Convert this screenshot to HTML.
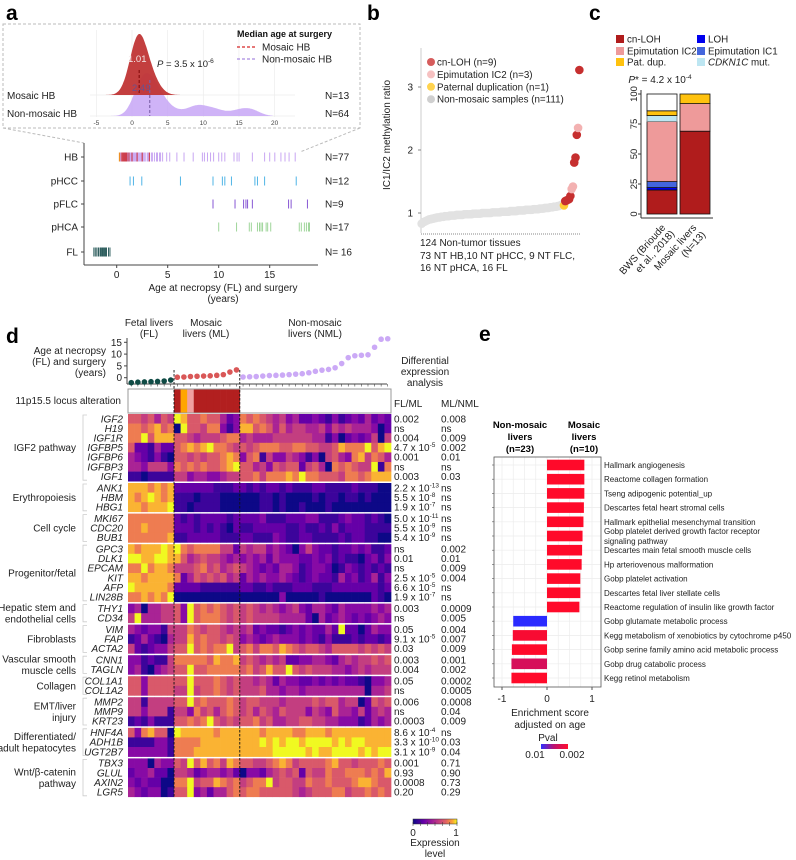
<!DOCTYPE html>
<html><head><meta charset="utf-8">
<style>
html,body{margin:0;padding:0;background:#fff;}
svg{display:block;font-family:"Liberation Sans",Arial,sans-serif;}
.t{font-size:10px;fill:#222;}
</style></head>
<body>
<svg id="fig" width="796" height="860" viewBox="0 0 796 860" xmlns="http://www.w3.org/2000/svg">
<text x="6" y="20" font-size="21" font-weight="bold">a</text>
<text x="367" y="20" font-size="21" font-weight="bold">b</text>
<text x="589" y="20" font-size="21" font-weight="bold">c</text>
<text x="6" y="343" font-size="21" font-weight="bold">d</text>
<text x="479" y="341" font-size="21" font-weight="bold">e</text>

<g id="pa">
<rect x="3" y="24" width="357" height="104" fill="none" stroke="#bbb" stroke-dasharray="3,2"/>
<line x1="3" y1="128" x2="84" y2="143" stroke="#bbb" stroke-dasharray="3,2"/>
<line x1="360" y1="128" x2="300" y2="152" stroke="#bbb" stroke-dasharray="3,2"/>
<g id="ridgeGrid"></g>
<g id="ridge"></g>
<text class="t" x="7" y="99">Mosaic HB</text>
<text class="t" x="7" y="117">Non-mosaic HB</text>
<text class="t" x="325" y="99">N=13</text>
<text class="t" x="325" y="117">N=64</text>
<text x="128" y="62" font-size="9.5" fill="#f4e8e8">1.01</text>
<text x="132" y="91" font-size="9.5" fill="#6a4f8c">2.49</text>
<text x="157" y="67" font-size="9.5" fill="#222"><tspan font-style="italic">P</tspan> = 3.5 x 10<tspan font-size="6.5" dy="-4">-6</tspan></text>
<text x="237" y="37" font-size="9" font-weight="bold" fill="#111">Median age at surgery</text>
<line x1="237" y1="47" x2="257" y2="47" stroke="#d62728" stroke-width="1.2" stroke-dasharray="3,2"/>
<text class="t" x="262" y="50.5">Mosaic HB</text>
<line x1="237" y1="59" x2="257" y2="59" stroke="#a98ae0" stroke-width="1.2" stroke-dasharray="3,2"/>
<text class="t" x="262" y="62.5">Non-mosaic HB</text>
<g id="strip"></g>
<line x1="84" y1="143" x2="84" y2="265" stroke="#444"/>
<line x1="84" y1="265" x2="318" y2="265" stroke="#444"/>
<text class="t" x="223" y="291" text-anchor="middle">Age at necropsy (FL) and surgery</text>
<text class="t" x="223" y="302" text-anchor="middle">(years)</text>
</g>

<g id="pb">
<text class="t" transform="translate(390,135) rotate(-90)" text-anchor="middle">IC1/IC2 methylation ratio</text>
<line x1="421" y1="48" x2="421" y2="233" stroke="#ccc"/>
<line x1="421" y1="234" x2="580" y2="234" stroke="#888" stroke-dasharray="1,1"/>
<g id="bticks"></g>
<g id="bpts"></g>
<g id="blegend"></g>
<text class="t" x="420" y="246">124 Non-tumor tissues</text>
<text class="t" x="420" y="259">73 NT HB,10 NT pHCC, 9 NT FLC,</text>
<text class="t" x="420" y="271">16 NT pHCA, 16 FL</text>
</g>

<g id="pc">
<g id="clegend"></g>
<text class="t" x="660" y="83" text-anchor="middle"><tspan font-style="italic">P</tspan>* = 4.2 x 10<tspan font-size="6.5" dy="-4">-4</tspan></text>
<line x1="641" y1="90" x2="641" y2="218" stroke="#333"/>
<line x1="641" y1="218" x2="713" y2="218" stroke="#333"/>
<g id="cbars"></g>
<text class="t" transform="translate(666,228) rotate(-48)" text-anchor="end">BWS (Brioude</text>
<text class="t" transform="translate(675,234) rotate(-48)" text-anchor="end">et al., 2018)</text>
<text class="t" transform="translate(697,228) rotate(-48)" text-anchor="end">Mosaic livers</text>
<text class="t" transform="translate(706,235) rotate(-48)" text-anchor="end">(N=13)</text>
</g>

<g id="pd">
<text class="t" x="149" y="326" text-anchor="middle">Fetal livers</text>
<text class="t" x="149" y="337" text-anchor="middle">(FL)</text>
<text class="t" x="206" y="326" text-anchor="middle">Mosaic</text>
<text class="t" x="206" y="337" text-anchor="middle">livers (ML)</text>
<text class="t" x="315" y="326" text-anchor="middle">Non-mosaic</text>
<text class="t" x="315" y="337" text-anchor="middle">livers (NML)</text>
<text class="t" x="106" y="354" text-anchor="end">Age at necropsy</text>
<text class="t" x="106" y="365" text-anchor="end">(FL) and surgery</text>
<text class="t" x="106" y="376" text-anchor="end">(years)</text>
<text class="t" x="425" y="364" text-anchor="middle">Differential</text>
<text class="t" x="425" y="375" text-anchor="middle">expression</text>
<text class="t" x="425" y="386" text-anchor="middle">analysis</text>
<text class="t" x="394" y="407">FL/ML</text>
<text class="t" x="441" y="407">ML/NML</text>
<text class="t" x="121" y="404" text-anchor="end">11p15.5 locus alteration</text>
<g id="dage"></g>
<g id="dlocus"></g>
<g id="dheat"></g>
<g id="dlabels"></g>
<g id="dcbar"></g>
</g>

<g id="pe">
<text x="520" y="428" font-size="9.5" font-weight="bold" text-anchor="middle">Non-mosaic</text>
<text x="520" y="440" font-size="9.5" font-weight="bold" text-anchor="middle">livers</text>
<text x="520" y="452" font-size="9.5" font-weight="bold" text-anchor="middle">(n=23)</text>
<text x="584" y="428" font-size="9.5" font-weight="bold" text-anchor="middle">Mosaic</text>
<text x="584" y="440" font-size="9.5" font-weight="bold" text-anchor="middle">livers</text>
<text x="584" y="452" font-size="9.5" font-weight="bold" text-anchor="middle">(n=10)</text>
<g id="egrid"></g>
<g id="ebars"></g>
<rect x="494" y="457" width="107" height="230" fill="none" stroke="#555" stroke-width="0.8"/>
<text class="t" x="550" y="716" text-anchor="middle">Enrichment score</text>
<text class="t" x="550" y="728" text-anchor="middle">adjusted on age</text>
<text class="t" x="548" y="741" text-anchor="middle">Pval</text>
<defs><linearGradient id="pg" x1="0" x2="1"><stop offset="0" stop-color="#3030ff"/><stop offset="0.5" stop-color="#c0106a"/><stop offset="1" stop-color="#ff1030"/></linearGradient>
<linearGradient id="plasma" x1="0" x2="1"><stop offset="0" stop-color="#0d0887"/><stop offset="0.25" stop-color="#6a00a8"/><stop offset="0.5" stop-color="#b12a90"/><stop offset="0.75" stop-color="#e16462"/><stop offset="0.9" stop-color="#fca636"/><stop offset="1" stop-color="#f0f921"/></linearGradient></defs>
<rect x="541" y="744" width="27" height="5" fill="url(#pg)"/>
<text class="t" x="535" y="758" text-anchor="middle">0.01</text>
<text class="t" x="572" y="758" text-anchor="middle">0.002</text>
</g>
</svg>

<script>
const ageMosaicHB = [0.3,0.5,0.6,0.7,0.8,0.9,1.0,1.01,1.2,1.5,2.0,2.5,3.2];
const ageNonMosaicHB = [0.4,0.6,0.7,0.8,0.9,1.0,1.0,1.1,1.2,1.3,1.4,1.5,1.5,1.6,1.7,1.8,1.9,2.0,2.0,2.1,2.2,2.3,2.4,2.49,2.5,2.6,2.7,2.8,3.0,3.0,3.1,3.2,3.4,3.5,3.7,3.9,4.0,4.2,4.3,4.5,4.9,5.2,5.9,6.6,7.5,8.4,8.6,8.9,9.2,9.5,10.0,10.3,10.6,11.5,11.8,12.0,13.3,14.5,15.0,15.5,16.1,16.5,16.9,17.5];
const ageHBOther = [0.26];
const agePHCC = [1.31,1.64,2.46,6.25,9.44,10.36,10.6,11.25,13.55,13.8,14.5,17.6];
const agePFLC = [9.44,11.6,12.44,12.67,12.83,13.3,16.85,17.1,18.7];
const agePHCA = [10.0,11.75,13.0,13.2,13.8,14.0,14.15,14.3,14.65,14.8,15.1,17.9,18.1,18.4,18.6,18.8,18.9];
const ageFL = [-2.24,-2.1,-1.95,-1.8,-1.75,-1.6,-1.55,-1.5,-1.4,-1.35,-1.3,-1.2,-1.1,-1.0,-0.8,-0.66];
const medians = [1.01, 2.49];
const stripRows = ["HB","pHCC","pFLC","pHCA","FL"];
const stripN = ["N=77","N=12","N=9","N=17","N= 16"];
const stripTicks = [0,5,10,15];
const ridgeTicks = [-5,0,5,10,15,20];
const grayRatios = [0.83,0.85,0.86,0.87,0.88,0.89,0.90,0.90,0.91,0.91,0.92,0.92,0.93,0.93,0.93,0.94,0.94,0.94,0.95,0.95,
0.95,0.95,0.96,0.96,0.96,0.96,0.96,0.97,0.97,0.97,0.97,0.97,0.97,0.98,0.98,0.98,0.98,0.98,0.98,0.98,
0.99,0.99,0.99,0.99,0.99,0.99,0.99,1.00,1.00,1.00,1.00,1.00,1.00,1.00,1.00,1.01,1.01,1.01,1.01,1.01,
1.01,1.01,1.02,1.02,1.02,1.02,1.02,1.02,1.02,1.03,1.03,1.03,1.03,1.03,1.03,1.04,1.04,1.04,1.04,1.04,
1.04,1.05,1.05,1.05,1.05,1.05,1.05,1.06,1.06,1.06,1.06,1.06,1.07,1.07,1.07,1.07,1.08,1.08,1.08,1.08,
1.09,1.09,1.09,1.10,1.10,1.10,1.11,1.11,1.12,1.13,1.14];
const mosaicRatios = [1.12,1.19,1.20,1.21,1.22,1.27,1.38,1.42,1.80,1.88,2.24,2.35,3.27];
const mosaicTypes = ["pat","cn","cn","cn","cn","cn","ic2","ic2","cn","cn","cn","ic2","cn"];
const bTicks = [1,2,3];
const bLegend = ["cn-LOH (n=9)","Epimutation IC2 (n=3)","Paternal duplication (n=1)","Non-mosaic samples (n=111)"];
const cCategories = ["BWS","Mosaic livers"];
const cSegNames = ["cn-LOH","LOH","Epimutation IC1","Epimutation IC2","CDKN1C mut.","Pat. dup.","Other"];
const cBWS = [20,2,5,50,5,4,14];
const cMosaic = [69,0,0,23,0,8,0];
const cTicks = [0,25,50,75,100];
const dAgeFL = [-2.1,-1.9,-1.8,-1.7,-1.6,-1.4,-1.0];
const dAgeML = [0.2,0.3,0.5,0.6,0.7,0.8,1.0,1.3,2.4,3.3];
const dAgeNML = [0.3,0.4,0.5,0.7,0.9,1.0,1.1,1.3,1.5,1.7,2.1,2.7,3.2,3.5,4.2,6.0,8.5,9.3,9.5,9.7,12.9,16.3,16.5];
const dAgeTicks = [0,5,10,15];
const locusML = ["cn","pat","ic2","cn","cn","cn","cn","cn","cn","cn"];
const genes = ["IGF2","H19","IGF1R","IGFBP5","IGFBP6","IGFBP3","IGF1","ANK1","HBM","HBG1","MKI67","CDC20","BUB1","GPC3","DLK1","EPCAM","KIT","AFP","LIN28B","THY1","CD34","VIM","FAP","ACTA2","CNN1","TAGLN","COL1A1","COL1A2","MMP2","MMP9","KRT23","HNF4A","ADH1B","UGT2B7","TBX3","GLUL","AXIN2","LGR5"];
const groupNames = ["IGF2 pathway","Erythropoiesis","Cell cycle","Progenitor/fetal","Hepatic stem and|endothelial cells","Fibroblasts","Vascular smooth|muscle cells","Collagen","EMT/liver|injury","Differentiated/|adult hepatocytes","Wnt/β-catenin|pathway"];
const groupSizes = [7,3,3,6,2,3,2,2,3,3,4];
const statFLML = ["0.002","ns","0.004","4.7 x 10^-5","0.001","ns","0.003","2.2 x 10^-13","5.5 x 10^-8","1.9 x 10^-7","5.0 x 10^-11","5.5 x 10^-9","5.4 x 10^-9","ns","0.01","ns","2.5 x 10^-5","6.6 x 10^-5","1.9 x 10^-7","0.003","ns","0.05","9.1 x 10^-5","0.03","0.003","0.004","0.05","ns","0.006","ns","0.0003","8.6 x 10^-4","3.3 x 10^-10","3.1 x 10^-9","0.001","0.93","0.0008","0.20"];
const statMLNML = ["0.008","ns","0.009","0.002","0.01","ns","0.03","ns","ns","ns","ns","ns","ns","0.002","0.01","0.009","0.004","ns","ns","0.0009","0.005","0.004","0.007","0.009","0.001","0.002","0.0002","0.0005","0.0008","0.04","0.009","ns","0.03","0.04","0.71","0.90","0.73","0.29"];
const expr = [
"6656465 9866766423 76765453422321312324232",
"7767867 0966577313 88676464554453545444302",
"7796888 6654555677 45444555555441302323505",
"6221422 6787897765 65677766776655687779689",
"4321310 6656566787 36715335431305643785764",
"4435553 7676766789 66453656625640767655917",
"1101111 5534433455 66757778797766657767888",
"8887878 2222221112 21212212111221111211100",
"8789878 1110111000 00011010000101101101000",
"8878889 1101111000 00011010010001000000000",
"7777777 2121222212 22231112223311123221210",
"7787777 2221212102 11222221121121312221111",
"7777778 1122222111 22111321122111121221100",
"8788898 9767777552 54553432035322122323112",
"9988998 8645655434 34342433322323121102313",
"7797887 5556756456 54323244312332013212121",
"8878888 7246565645 24343343212322142312413",
"9888887 2222111111 22112111222111222222212",
"7787879 0000000000 00000030000010000000210",
"3404455 6396767656 56545434532443243333434",
"5944455 6396777656 56555544442042343232343",
"4323315 5576566545 45232212323224292202433",
"1242104 5586766565 34323433323213111212212",
"5212335 6696767795 67577687656654666656565",
"3312115 7777768778 56545452233443245455656",
"3410345 6696677777 67568669656555443454555",
"6636666 6696667656 55454243322323232210334",
"6636666 5595667656 55564434434444444440445",
"5515555 6696766676 56655545555656645502656",
"5535551 5537564676 56465465553543644352454",
"1213111 6676796565 66756445566554433312434",
"6378660 9888887888 88878888778887888888888",
"1111331 7777888888 88898989989999898998888",
"3333331 7778888888 88888999998988999989899",
"3330433 6596867587 66556787566667866566676",
"2334220 5542344342 03324565626557667776768",
"3232200 7795668767 56779566557667666788766",
"4323301 6693424467 67766666545666775667676"];
const eTerms = ["Hallmark angiogenesis","Reactome collagen formation","Tseng adipogenic potential_up","Descartes fetal heart stromal cells","Hallmark epithelial mesenchymal transition","Gobp platelet derived growth factor receptor|signaling pathway","Descartes main fetal smooth muscle cells","Hp arteriovenous malformation","Gobp platelet activation","Descartes fetal liver stellate cells","Reactome regulation of insulin like growth factor","Gobp glutamate metabolic process","Kegg metabolism of xenobiotics by cytochrome p450","Gobp serine family amino acid metabolic process","Gobp drug catabolic process","Kegg retinol metabolism"];
const eScores = [0.83,0.83,0.83,0.82,0.81,0.79,0.78,0.77,0.74,0.74,0.72,-0.75,-0.76,-0.78,-0.79,-0.79];
const ePvals = [0.002,0.002,0.002,0.002,0.002,0.002,0.002,0.002,0.002,0.002,0.002,0.01,0.0025,0.002,0.005,0.002];
const eTicks = [-1,0,1];

const NS="http://www.w3.org/2000/svg";
function mk(parent, tag, attrs){const e=document.createElementNS(NS,tag);for(const k in attrs)e.setAttribute(k,attrs[k]);parent.appendChild(e);return e;}
function G(id){return document.getElementById(id);}
function hex(h){return [parseInt(h.slice(1,3),16),parseInt(h.slice(3,5),16),parseInt(h.slice(5,7),16)];}
const plasmaStops=[[0,'#0d0887'],[0.13,'#41049d'],[0.25,'#6a00a8'],[0.38,'#8f0da4'],[0.5,'#b12a90'],[0.63,'#cc4778'],[0.75,'#e16462'],[0.85,'#f2844b'],[0.93,'#fca636'],[1,'#f0f921']];
function plasma(v){v=Math.max(0,Math.min(1,v));for(let i=1;i<plasmaStops.length;i++){if(v<=plasmaStops[i][0]){const a=plasmaStops[i-1],b=plasmaStops[i];const t=(v-a[0])/(b[0]-a[0]);const ca=hex(a[1]),cb=hex(b[1]);return 'rgb('+ca.map((c,j)=>Math.round(c+(cb[j]-c)*t)).join(',')+')';}}return '#f0f921';}
function setStat(el, s){
  const m=s.split('^');
  const a=mk(el,'tspan',{});a.textContent=m[0];
  if(m.length>1){const b=mk(el,'tspan',{'font-size':6.5,dy:-4});b.textContent=m[1];}
}

const rx = a => 132 + a*7.13;
const sx = a => 116.7 + a*10.2;
(function(){
  const gg=G('ridgeGrid');
  ridgeTicks.forEach(t=>{
    const l=mk(gg,'line',{x1:rx(t),y1:30,x2:rx(t),y2:117,stroke:'#ececec','stroke-width':0.7});
    
    
    const tx=mk(gg,'text',{x:rx(t),y:125,'font-size':6.5,'text-anchor':'middle',fill:'#444'});
    tx.textContent=t;
    
    
  });
  [95,116].forEach(y=>{const l=mk(gg,'line',{x1:90,y1:y,x2:295,y2:y,stroke:'#ececec','stroke-width':0.7});
    
    });
  function kde(data,bw,x){let s=0;data.forEach(d=>{const z=(x-d)/bw;s+=Math.exp(-0.5*z*z);});return s;}
  function ridge(data,bw,base,height,fill,op,name,x0,x1){
    const xs=[];for(let a=x0;a<=x1;a+=0.1)xs.push(a);
    const ys=xs.map(a=>kde(data,bw,a));const mx=Math.max(...ys);
    let d='M'+rx(x0)+','+base;
    xs.forEach((a,i)=>{d+=' L'+rx(a).toFixed(1)+','+(base-ys[i]/mx*height).toFixed(1);});
    d+=' L'+rx(x1)+','+base+' Z';
    const p=mk(G('ridge'),'path',{d:d,fill:fill,'fill-opacity':op});
    
    
  }
  ridge(ageNonMosaicHB,1.1,116,43,'#c7a6f6',0.85,'density-nonmosaic',-3.8,19.8);
  ridge(ageMosaicHB,1.15,95,61,'#c03535',0.95,'density-mosaic',-3.8,6.7);
  const m1=mk(G('ridge'),'line',{x1:rx(medians[0]),y1:70,x2:rx(medians[0]),y2:95,stroke:'#8b1010','stroke-dasharray':'3,2','stroke-width':1.2});
  
  
  const m2=mk(G('ridge'),'line',{x1:rx(medians[1]),y1:80,x2:rx(medians[1]),y2:116,stroke:'#7a5fa8','stroke-dasharray':'3,2','stroke-width':1.1});
  
  

  const st=G('strip');
  const rowY=[157,181,204,227,252];
  stripRows.forEach((r,i)=>{
    const t=mk(st,'text',{x:78,y:rowY[i]+3.5,'text-anchor':'end','font-size':10,fill:'#222'});t.textContent=r;
    
    
    const n=mk(st,'text',{x:325,y:rowY[i]+3.5,'font-size':10,fill:'#222'});n.textContent=stripN[i];
    
    
    const tk=mk(st,'line',{x1:81,y1:rowY[i],x2:84,y2:rowY[i],stroke:'#444'});
    
    
  });
  function ticks(arr,row,color,name,w){arr.forEach(a=>{const l=mk(st,'line',{x1:sx(a),y1:rowY[row]-4.5,x2:sx(a),y2:rowY[row]+4.5,stroke:color,'stroke-width':w||1});
    
    });}
  ticks(ageNonMosaicHB,0,'#c8a6f2','tick-hb-nonmosaic');
  ticks(ageMosaicHB,0,'#cc2f38','tick-hb-mosaic');
  ticks(ageHBOther,0,'#f2a023','tick-hb-other');
  ticks(agePHCC,1,'#4fb4e6','tick-phcc');
  ticks(agePFLC,2,'#8757d4','tick-pflc');
  ticks(agePHCA,3,'#9fd59a','tick-phca');
  ticks(ageFL,4,'#2f5f5f','tick-fl');
  stripTicks.forEach(t=>{
    const l=mk(st,'line',{x1:sx(t),y1:265,x2:sx(t),y2:268,stroke:'#444'});
    
    
    const tx=mk(st,'text',{x:sx(t),y:278,'text-anchor':'middle','font-size':10,fill:'#222'});tx.textContent=t;
    
    
  });
})();

(function(){
  const by=v=>213-(v-1)*63;
  const total=grayRatios.length+mosaicRatios.length;
  const bx=r=>421+(r+0.5)*(159/total);
  bTicks.forEach(t=>{
    const tx=mk(G('bticks'),'text',{x:413,y:by(t)+3.5,'text-anchor':'end','font-size':10,fill:'#222'});tx.textContent=t;
    
    
    const l=mk(G('bticks'),'line',{x1:418,y1:by(t),x2:421,y2:by(t),stroke:'#888'});
    
    
  });
  grayRatios.forEach((v,i)=>{const c=mk(G('bpts'),'circle',{cx:bx(i),cy:by(v),r:4.3,fill:'#e2e2e2'});
    
    });
  const col={cn:'#c62f2f',ic2:'#f3b1b1',pat:'#ffcc33'};
  mosaicRatios.forEach((v,i)=>{const c=mk(G('bpts'),'circle',{cx:bx(grayRatios.length+i),cy:by(v),r:4.3,fill:col[mosaicTypes[i]]});
    
    });
  const lc=['#d65c5c','#f6c1c1','#ffd34f','#cfcfcf'];
  bLegend.forEach((s,i)=>{
    const y=62+i*12.4;
    const c=mk(G('blegend'),'circle',{cx:431,cy:y,r:4,fill:lc[i]});
    
    
    const t=mk(G('blegend'),'text',{x:437,y:y+3.5,'font-size':9.8,fill:'#222'});t.textContent=s;
    
    
  });
})();

(function(){
  const cy=v=>214-v*1.2;
  const segCol=['#b01c1c','#0000ee','#4466dd','#ee9a9a','#bde6f2','#ffc20e','#ffffff'];
  const bx=[647,680];
  [cBWS,cMosaic].forEach((vals,b)=>{
    let acc=0;
    vals.forEach((v,k)=>{
      if(v<=0)return;
      const r=mk(G('cbars'),'rect',{x:bx[b],y:cy(acc+v),width:30,height:v*1.2,fill:segCol[k],stroke:(k===4?'#777':'#111'),'stroke-width':0.8});
      
      
      acc+=v;
    });
  });
  cTicks.forEach(t=>{
    const tx=mk(G('cbars'),'text',{transform:'translate(637,'+cy(t)+') rotate(-90)','text-anchor':'middle','font-size':9.5,fill:'#222'});tx.textContent=t;
    
    
    const l=mk(G('cbars'),'line',{x1:638,y1:cy(t),x2:641,y2:cy(t),stroke:'#333'});
    
    
  });
  const items=[["cn-LOH",'#b01c1c',620,39],["Epimutation IC2",'#ee9a9a',620,51],["Pat. dup.",'#ffc20e',620,62],["LOH",'#0000ee',701,39],["Epimutation IC1",'#4466dd',701,51],["CDKN1C mut.",'#bde6f2',701,62]];
  items.forEach((it,i)=>{
    const r=mk(G('clegend'),'rect',{x:it[2]-4,y:it[3]-4,width:8,height:8,fill:it[1]});
    
    
    const t=mk(G('clegend'),'text',{x:it[2]+7,y:it[3]+3.5,'font-size':9.8,fill:'#222'});
    if(i===5){const ts=mk(t,'tspan',{'font-style':'italic'});ts.textContent='CDKN1C';const t2=mk(t,'tspan',{});t2.textContent=' mut.';}
    else t.textContent=it[0];
    
    
  });
})();

(function(){
  const X0=128, X1=391, N=40, cw=(X1-X0)/N;
  const ay=a=>377.7-a*2.36;
  const cxc=i=>X0+(i+0.5)*cw;
  const ag=G('dage');
  const ax=mk(ag,'line',{x1:X0-1,y1:338,x2:X0-1,y2:384,stroke:'#444'});
  
  
  const bxl=mk(ag,'line',{x1:X0-1,y1:384,x2:X1-4,y2:384,stroke:'#444'});
  
  
  for(let i=0;i<N;i++){const l=mk(ag,'line',{x1:cxc(i),y1:384,x2:cxc(i),y2:386.5,stroke:'#444','stroke-width':0.6});
    
    }
  dAgeTicks.forEach(t=>{
    const l=mk(ag,'line',{x1:X0-4,y1:ay(t),x2:X0-1,y2:ay(t),stroke:'#444'});
    
    
    const tx=mk(ag,'text',{x:X0-6,y:ay(t)+3.5,'text-anchor':'end','font-size':10,fill:'#222'});tx.textContent=t;
    
    
  });
  const allAges=[dAgeFL,dAgeML,dAgeNML];const cols=['#0f4b45','#d95757','#cba9f6'];const nm=['fl','ml','nml'];
  let idx=0;
  allAges.forEach((arr,g)=>{arr.forEach(a=>{const c=mk(ag,'circle',{cx:cxc(idx),cy:ay(a),r:2.8,fill:cols[g]});
    
    idx++;});});
  const lg=G('dlocus');
  const lb=mk(lg,'rect',{x:X0,y:389,width:X1-X0,height:24,fill:'#fff',stroke:'#999','stroke-width':1});
  
  
  const lcol={cn:'#b21f1f',pat:'#ffa500',ic2:'#f0a0a0'};
  locusML.forEach((t,i)=>{const r=mk(lg,'rect',{x:cxc(dAgeFL.length+i)-cw/2,y:389.5,width:cw+0.3,height:23,fill:lcol[t]});
    
    });
  const hg=G('dheat'), lab=G('dlabels');
  const rowH=9.6, gap=1.8;
  let y=414, r=0;
  groupSizes.forEach((gs,g)=>{
    const gy0=y;
    for(let k=0;k<gs;k++){
      const s=expr[r].replace(/ /g,'');
      for(let c=0;c<N;c++){
        const ch=s.charAt(c);const v=ch===''?5:parseInt(ch,10);
        const rc=mk(hg,'rect',{x:(X0+c*cw).toFixed(2),y:y.toFixed(2),width:(cw+0.35).toFixed(2),height:(rowH+0.3).toFixed(2),fill:plasma(v/8.5)});
        
        
      }
      const gt=mk(lab,'text',{x:123,y:(y+rowH/2+3.5).toFixed(1),'text-anchor':'end','font-size':10,'font-style':'italic',fill:'#222'});gt.textContent=genes[r];
      
      
      const s1=mk(lab,'text',{x:394,y:(y+rowH/2+3.5).toFixed(1),'font-size':10,fill:'#222'});setStat(s1,statFLML[r]);
      
      
      const s2=mk(lab,'text',{x:441,y:(y+rowH/2+3.5).toFixed(1),'font-size':10,fill:'#222'});setStat(s2,statMLNML[r]);
      
      
      y+=rowH; r++;
    }
    const gy1=y;
    const br=mk(lab,'path',{d:'M87,'+(gy0+1)+' H83 V'+(gy1-1)+' H87',fill:'none',stroke:'#ccc','stroke-width':0.8});
    
    
    const parts=groupNames[g].split('|');const mid=(gy0+gy1)/2;
    parts.forEach((p,pi)=>{
      const t=mk(lab,'text',{x:76,y:(mid+3.5+(pi-(parts.length-1)/2)*11.5).toFixed(1),'text-anchor':'end','font-size':10,fill:'#222'});t.textContent=p;
      
      
    });
    y+=gap;
  });
  [dAgeFL.length, dAgeFL.length+dAgeML.length].forEach(c=>{
    const l=mk(hg,'line',{x1:X0+c*cw,y1:370,x2:X0+c*cw,y2:797,stroke:'#111','stroke-dasharray':'2.5,1.5','stroke-width':0.9});
    
    
  });
  const cb=G('dcbar');
  const cr=mk(cb,'rect',{x:413,y:819,width:44,height:5,fill:'url(#plasma)',stroke:'#333','stroke-width':0.5});
  
  
  for(let i=0;i<=6;i++){const l=mk(cb,'line',{x1:413+i*44/6,y1:822,x2:413+i*44/6,y2:826,stroke:'#333','stroke-width':0.5});
    
    }
  [['0',413],['1',456]].forEach(a=>{const t=mk(cb,'text',{x:a[1],y:836,'text-anchor':'middle','font-size':10,fill:'#222'});t.textContent=a[0];
    
    });
  const e1=mk(cb,'text',{x:435,y:846,'text-anchor':'middle','font-size':10,fill:'#222'});e1.textContent='Expression';
  
  
  const e2=mk(cb,'text',{x:435,y:857,'text-anchor':'middle','font-size':10,fill:'#222'});e2.textContent='level';
  
  
})();

(function(){
  const ex=v=>547+v*45;
  const ey=i=>465+i*14.2;
  const gg=G('egrid');
  [-1,-0.75,-0.5,-0.25,0,0.25,0.5,0.75,1].forEach(v=>{const l=mk(gg,'line',{x1:ex(v),y1:457,x2:ex(v),y2:687,stroke:'#ececec','stroke-width':0.7});
    
    });
  eTerms.forEach((t,i)=>{
    const l=mk(gg,'line',{x1:494,y1:ey(i),x2:601,y2:ey(i),stroke:'#ececec','stroke-width':0.7});
    
    
    const tk=mk(gg,'line',{x1:492,y1:ey(i),x2:494,y2:ey(i),stroke:'#555','stroke-width':0.6});
    
    
  });
  function pcol(p){const t=Math.max(0,Math.min(1,(0.01-p)/0.008));const a=hex('#2a2aff'),m=hex('#c8106a'),b=hex('#ff0a2a');
    let c;if(t<0.5){const u=t*2;c=a.map((x,j)=>x+(m[j]-x)*u);}else{const u=(t-0.5)*2;c=m.map((x,j)=>x+(b[j]-x)*u);}
    return 'rgb('+c.map(Math.round).join(',')+')';}
  eScores.forEach((v,i)=>{
    const x=Math.min(ex(0),ex(v)),w=Math.abs(ex(v)-ex(0));
    const r=mk(G('ebars'),'rect',{x:x,y:ey(i)-5.3,width:w,height:10.6,fill:pcol(ePvals[i])});
    
    
    const parts=eTerms[i].split('|');
    parts.forEach((p,pi)=>{
      const t=mk(G('ebars'),'text',{x:604,y:(ey(i)+3+(parts.length>1?(pi*10-5):0)).toFixed(1),'font-size':8,fill:'#222'});t.textContent=p;
      
      
    });
  });
  eTicks.forEach(v=>{
    const l=mk(G('ebars'),'line',{x1:ex(v),y1:687,x2:ex(v),y2:690,stroke:'#555'});
    
    
    const t=mk(G('ebars'),'text',{x:ex(v),y:702,'text-anchor':'middle','font-size':10,fill:'#222'});t.textContent=v;
    
    
  });
})();
</script>
</body></html>
